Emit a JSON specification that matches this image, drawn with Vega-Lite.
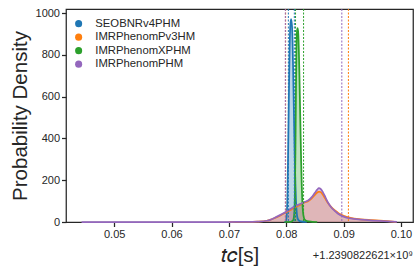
{
  "$schema": "https://vega.github.io/schema/vega-lite/v6.json",
  "width": 347,
  "height": 213,
  "autosize": {"type": "none"},
  "padding": {"left": 66, "top": 9, "right": 7, "bottom": 54},
  "background": "white",
  "config": {
    "font": "Liberation Sans",
    "view": {"stroke": "#262626", "strokeWidth": 1.25},
    "axis": {
      "domain": false,
      "grid": false,
      "tickColor": "#262626",
      "tickSize": 4.5,
      "tickWidth": 1.25,
      "labelFont": "Liberation Sans",
      "labelFontSize": 11,
      "labelColor": "#262626",
      "labelPadding": 2,
      "titleFont": "Liberation Sans",
      "titleFontSize": 20.5,
      "titleFontWeight": "normal",
      "titleColor": "#262626"
    }
  },
  "title": {
    "text": "+1.2390822621×10⁹",
    "orient": "bottom",
    "anchor": "end",
    "frame": "group",
    "font": "Liberation Sans",
    "fontSize": 11,
    "fontWeight": "normal",
    "color": "#262626",
    "offset": -16.5
  },
  "datasets": {
    "dens": [
      {"model": "SEOBNRv4PHM", "t": 0.0797, "d": 0},
      {"model": "SEOBNRv4PHM", "t": 0.0799, "d": 2},
      {"model": "SEOBNRv4PHM", "t": 0.0800, "d": 10},
      {"model": "SEOBNRv4PHM", "t": 0.0801, "d": 40},
      {"model": "SEOBNRv4PHM", "t": 0.0802, "d": 120},
      {"model": "SEOBNRv4PHM", "t": 0.0803, "d": 280},
      {"model": "SEOBNRv4PHM", "t": 0.0804, "d": 480},
      {"model": "SEOBNRv4PHM", "t": 0.0805, "d": 680},
      {"model": "SEOBNRv4PHM", "t": 0.0806, "d": 840},
      {"model": "SEOBNRv4PHM", "t": 0.0807, "d": 940},
      {"model": "SEOBNRv4PHM", "t": 0.08084, "d": 972},
      {"model": "SEOBNRv4PHM", "t": 0.0810, "d": 940},
      {"model": "SEOBNRv4PHM", "t": 0.0811, "d": 860},
      {"model": "SEOBNRv4PHM", "t": 0.0812, "d": 730},
      {"model": "SEOBNRv4PHM", "t": 0.0813, "d": 580},
      {"model": "SEOBNRv4PHM", "t": 0.0814, "d": 430},
      {"model": "SEOBNRv4PHM", "t": 0.0815, "d": 290},
      {"model": "SEOBNRv4PHM", "t": 0.0816, "d": 180},
      {"model": "SEOBNRv4PHM", "t": 0.0817, "d": 100},
      {"model": "SEOBNRv4PHM", "t": 0.0818, "d": 55},
      {"model": "SEOBNRv4PHM", "t": 0.0819, "d": 28},
      {"model": "SEOBNRv4PHM", "t": 0.0821, "d": 10},
      {"model": "SEOBNRv4PHM", "t": 0.0825, "d": 3},
      {"model": "SEOBNRv4PHM", "t": 0.0836, "d": 0},

      {"model": "IMRPhenomPv3HM", "t": 0.0700, "d": 0},
      {"model": "IMRPhenomPv3HM", "t": 0.0730, "d": 0.5},
      {"model": "IMRPhenomPv3HM", "t": 0.0750, "d": 2},
      {"model": "IMRPhenomPv3HM", "t": 0.0766, "d": 6},
      {"model": "IMRPhenomPv3HM", "t": 0.0772, "d": 10},
      {"model": "IMRPhenomPv3HM", "t": 0.0780, "d": 19},
      {"model": "IMRPhenomPv3HM", "t": 0.0789, "d": 30},
      {"model": "IMRPhenomPv3HM", "t": 0.0798, "d": 43},
      {"model": "IMRPhenomPv3HM", "t": 0.0807, "d": 57},
      {"model": "IMRPhenomPv3HM", "t": 0.0815, "d": 70},
      {"model": "IMRPhenomPv3HM", "t": 0.0824, "d": 82},
      {"model": "IMRPhenomPv3HM", "t": 0.0832, "d": 94},
      {"model": "IMRPhenomPv3HM", "t": 0.0838, "d": 100},
      {"model": "IMRPhenomPv3HM", "t": 0.0844, "d": 112},
      {"model": "IMRPhenomPv3HM", "t": 0.0850, "d": 130},
      {"model": "IMRPhenomPv3HM", "t": 0.0854, "d": 141},
      {"model": "IMRPhenomPv3HM", "t": 0.0857, "d": 146},
      {"model": "IMRPhenomPv3HM", "t": 0.0860, "d": 143},
      {"model": "IMRPhenomPv3HM", "t": 0.0864, "d": 130},
      {"model": "IMRPhenomPv3HM", "t": 0.0868, "d": 112},
      {"model": "IMRPhenomPv3HM", "t": 0.0873, "d": 90},
      {"model": "IMRPhenomPv3HM", "t": 0.0879, "d": 70},
      {"model": "IMRPhenomPv3HM", "t": 0.0885, "d": 55},
      {"model": "IMRPhenomPv3HM", "t": 0.0891, "d": 42},
      {"model": "IMRPhenomPv3HM", "t": 0.0900, "d": 30},
      {"model": "IMRPhenomPv3HM", "t": 0.0912, "d": 20},
      {"model": "IMRPhenomPv3HM", "t": 0.0930, "d": 13},
      {"model": "IMRPhenomPv3HM", "t": 0.0950, "d": 9},
      {"model": "IMRPhenomPv3HM", "t": 0.0970, "d": 5},
      {"model": "IMRPhenomPv3HM", "t": 0.0985, "d": 2},
      {"model": "IMRPhenomPv3HM", "t": 0.0992, "d": 0.5},

      {"model": "IMRPhenomXPHM", "t": 0.0797, "d": 0},
      {"model": "IMRPhenomXPHM", "t": 0.0808, "d": 1},
      {"model": "IMRPhenomXPHM", "t": 0.0812, "d": 8},
      {"model": "IMRPhenomXPHM", "t": 0.0814, "d": 40},
      {"model": "IMRPhenomXPHM", "t": 0.0815, "d": 120},
      {"model": "IMRPhenomXPHM", "t": 0.0816, "d": 350},
      {"model": "IMRPhenomXPHM", "t": 0.0817, "d": 650},
      {"model": "IMRPhenomXPHM", "t": 0.0818, "d": 850},
      {"model": "IMRPhenomXPHM", "t": 0.0819, "d": 920},
      {"model": "IMRPhenomXPHM", "t": 0.0820, "d": 928},
      {"model": "IMRPhenomXPHM", "t": 0.0821, "d": 900},
      {"model": "IMRPhenomXPHM", "t": 0.0822, "d": 820},
      {"model": "IMRPhenomXPHM", "t": 0.0823, "d": 700},
      {"model": "IMRPhenomXPHM", "t": 0.0824, "d": 560},
      {"model": "IMRPhenomXPHM", "t": 0.0825, "d": 420},
      {"model": "IMRPhenomXPHM", "t": 0.0826, "d": 290},
      {"model": "IMRPhenomXPHM", "t": 0.0827, "d": 180},
      {"model": "IMRPhenomXPHM", "t": 0.0828, "d": 100},
      {"model": "IMRPhenomXPHM", "t": 0.0829, "d": 55},
      {"model": "IMRPhenomXPHM", "t": 0.0830, "d": 30},
      {"model": "IMRPhenomXPHM", "t": 0.0832, "d": 12},
      {"model": "IMRPhenomXPHM", "t": 0.0836, "d": 4},
      {"model": "IMRPhenomXPHM", "t": 0.0845, "d": 1},
      {"model": "IMRPhenomXPHM", "t": 0.0854, "d": 0},

      {"model": "IMRPhenomPHM", "t": 0.04431, "d": 0},
      {"model": "IMRPhenomPHM", "t": 0.0600, "d": 0},
      {"model": "IMRPhenomPHM", "t": 0.0700, "d": 0},
      {"model": "IMRPhenomPHM", "t": 0.0730, "d": 0.5},
      {"model": "IMRPhenomPHM", "t": 0.0750, "d": 2},
      {"model": "IMRPhenomPHM", "t": 0.0766, "d": 6},
      {"model": "IMRPhenomPHM", "t": 0.0772, "d": 10},
      {"model": "IMRPhenomPHM", "t": 0.0780, "d": 20},
      {"model": "IMRPhenomPHM", "t": 0.0789, "d": 33},
      {"model": "IMRPhenomPHM", "t": 0.0798, "d": 47},
      {"model": "IMRPhenomPHM", "t": 0.0807, "d": 62},
      {"model": "IMRPhenomPHM", "t": 0.0815, "d": 75},
      {"model": "IMRPhenomPHM", "t": 0.0824, "d": 86},
      {"model": "IMRPhenomPHM", "t": 0.0832, "d": 96},
      {"model": "IMRPhenomPHM", "t": 0.0838, "d": 103},
      {"model": "IMRPhenomPHM", "t": 0.0844, "d": 118},
      {"model": "IMRPhenomPHM", "t": 0.0850, "d": 140},
      {"model": "IMRPhenomPHM", "t": 0.0854, "d": 155},
      {"model": "IMRPhenomPHM", "t": 0.0857, "d": 162},
      {"model": "IMRPhenomPHM", "t": 0.0860, "d": 158},
      {"model": "IMRPhenomPHM", "t": 0.0864, "d": 142},
      {"model": "IMRPhenomPHM", "t": 0.0868, "d": 120},
      {"model": "IMRPhenomPHM", "t": 0.0873, "d": 92},
      {"model": "IMRPhenomPHM", "t": 0.0879, "d": 68},
      {"model": "IMRPhenomPHM", "t": 0.0885, "d": 52},
      {"model": "IMRPhenomPHM", "t": 0.0891, "d": 38},
      {"model": "IMRPhenomPHM", "t": 0.0900, "d": 26},
      {"model": "IMRPhenomPHM", "t": 0.0912, "d": 17},
      {"model": "IMRPhenomPHM", "t": 0.0930, "d": 11},
      {"model": "IMRPhenomPHM", "t": 0.0950, "d": 7},
      {"model": "IMRPhenomPHM", "t": 0.0970, "d": 4},
      {"model": "IMRPhenomPHM", "t": 0.0993, "d": 0.5}
    ],
    "rules": [
      {"model": "SEOBNRv4PHM", "t": 0.08037},
      {"model": "SEOBNRv4PHM", "t": 0.08141},
      {"model": "IMRPhenomPv3HM", "t": 0.07989},
      {"model": "IMRPhenomPv3HM", "t": 0.09084},
      {"model": "IMRPhenomXPHM", "t": 0.08162},
      {"model": "IMRPhenomXPHM", "t": 0.08302},
      {"model": "IMRPhenomPHM", "t": 0.07984},
      {"model": "IMRPhenomPHM", "t": 0.08969}
    ]
  },
  "encoding": {
    "x": {
      "field": "t",
      "type": "quantitative",
      "scale": {"domain": [0.0416, 0.1021], "nice": false, "zero": false},
      "axis": {
        "title": "𝑡𝑐[s]",
        "values": [0.05, 0.06, 0.07, 0.08, 0.09, 0.10],
        "format": ".2f",
        "titlePadding": 6,
        "labelFlush": false
      }
    },
    "color": {
      "field": "model",
      "type": "nominal",
      "scale": {
        "domain": ["SEOBNRv4PHM", "IMRPhenomPv3HM", "IMRPhenomXPHM", "IMRPhenomPHM"],
        "range": ["#1f77b4", "#ff7f0e", "#2ca02c", "#9467bd"]
      },
      "legend": {
        "title": null,
        "orient": "none",
        "legendX": 7,
        "legendY": 9,
        "padding": 0,
        "symbolType": "circle",
        "symbolSize": 50,
        "symbolStrokeWidth": 0,
        "labelFont": "Liberation Sans",
        "labelFontSize": 11.3,
        "labelColor": "#262626",
        "labelOffset": 11,
        "rowPadding": 1.5,
        "encode": {
          "symbols": {
            "update": {
              "fill": {"scale": "color", "field": "value"},
              "fillOpacity": {"value": 1},
              "strokeWidth": {"value": 0}
            }
          }
        }
      }
    }
  },
  "layer": [
    {
      "data": {"name": "dens"},
      "mark": {"type": "area", "fillOpacity": 0.3, "interpolate": "monotone"},
      "encoding": {
        "y": {
          "field": "d",
          "type": "quantitative",
          "stack": null,
          "scale": {"domain": [0, 1020], "nice": false},
          "axis": {
            "title": "Probability Density",
            "values": [0, 200, 400, 600, 800, 1000],
            "format": "d",
            "titlePadding": 5,
            "labelFlush": false
          }
        }
      }
    },
    {
      "data": {"name": "dens"},
      "mark": {"type": "line", "strokeWidth": 1.75, "interpolate": "monotone"},
      "encoding": {
        "y": {"field": "d", "type": "quantitative"}
      }
    },
    {
      "data": {"name": "rules"},
      "mark": {"type": "rule", "strokeDash": [2, 1.5], "strokeWidth": 1},
      "encoding": {}
    }
  ]
}
